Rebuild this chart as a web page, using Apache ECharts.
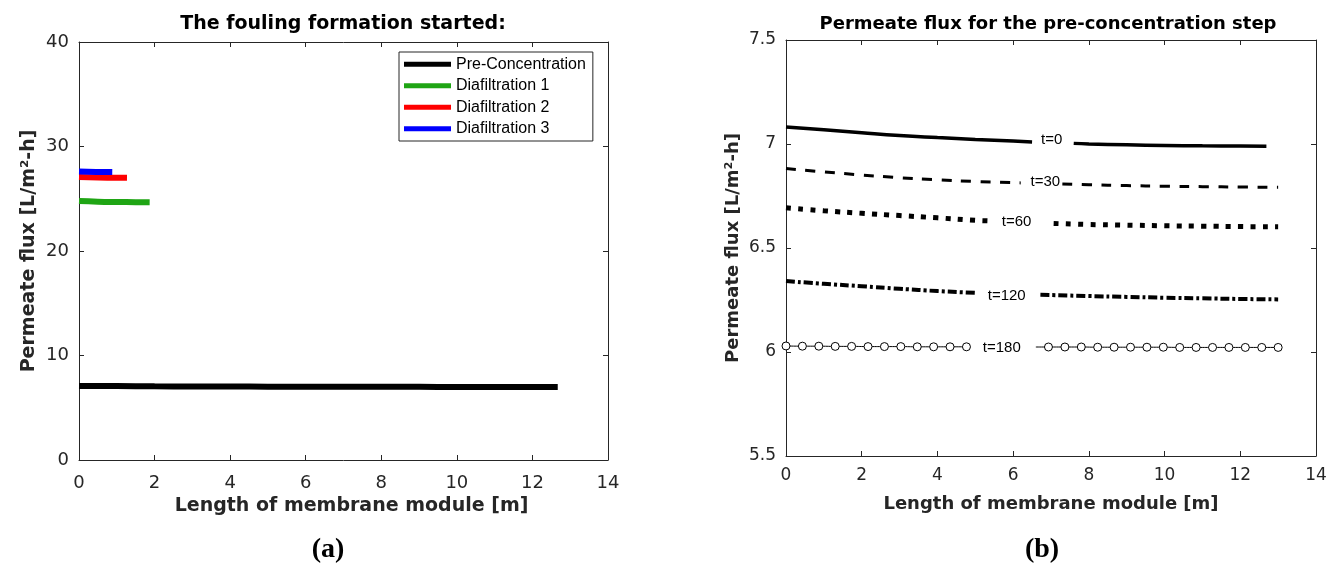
<!DOCTYPE html>
<html>
<head>
<meta charset="utf-8">
<title>Permeate flux</title>
<script src="https://cdn.jsdelivr.net/npm/echarts@6.0.0/dist/echarts.min.js"></script>
<style>
    html, body { margin: 0; padding: 0; background: #fff; }
    #main { width: 1328px; height: 564px; }
</style>
</head>
<body>
<div id="main"></div>
<script>
// (a) flux along the module when fouling starts, one profile per stage
var preConcX = [0, 1, 2, 3, 4, 5, 6, 7, 8, 9, 10, 11, 12, 12.67];
var preConcY = [7.08, 7.07, 7.05, 7.04, 7.03, 7.02, 7.01, 7.0, 7.0, 7.0, 6.99, 6.99, 6.99, 6.99];
var dia1X = [0, 0.5, 1, 1.5, 1.87];
var dia1Y = [24.78, 24.72, 24.69, 24.67, 24.66];
var dia2X = [0, 0.5, 1, 1.27];
var dia2Y = [27.07, 27.03, 27.01, 27.0];
var dia3X = [0, 0.45, 0.88];
var dia3Y = [27.6, 27.57, 27.55];
var stageNames = ['Pre-Concentration', 'Diafiltration 1', 'Diafiltration 2', 'Diafiltration 3'];

// (b) pre-concentration profiles at t = 0..180, null = gap left for the label
var t0X = [0, 1, 2, 3, 4, 5, 6, 6.5, 7.05, 7.6, 8, 9, 10, 11, 12, 12.69];
var t0Y = [7.082, 7.068, 7.054, 7.041, 7.031, 7.022, 7.014, 7.010, null, 7.003, 7.0, 6.996, 6.993, 6.991, 6.990, 6.989];
var t30X = [0, 1, 2, 3, 4, 5, 6.2, 6.75, 7.3, 8, 9, 10, 11, 12, 13];
var t30Y = [6.882, 6.866, 6.851, 6.838, 6.828, 6.820, 6.813, null, 6.808, 6.804, 6.800, 6.797, 6.795, 6.793, 6.792];
var t60X = [0, 1, 2, 3, 4, 5, 5.48, 6.3, 7.07, 8, 9, 10, 11, 12, 13];
var t60Y = [6.693, 6.679, 6.667, 6.656, 6.645, 6.633, 6.630, null, 6.618, 6.613, 6.610, 6.607, 6.605, 6.603, 6.602];
var t120X = [0, 1, 2, 3, 4, 5.03, 5.9, 6.72, 8, 9, 10, 11, 12, 13];
var t120Y = [6.341, 6.328, 6.316, 6.304, 6.293, 6.284, null, 6.275, 6.269, 6.265, 6.261, 6.258, 6.255, 6.253];
var t180X = [0, 0.433, 0.867, 1.3, 1.733, 2.167, 2.6, 3.033, 3.467, 3.9, 4.333, 4.767, 5.6, 6.6,
    6.933, 7.367, 7.8, 8.233, 8.667, 9.1, 9.533, 9.967, 10.4, 10.833, 11.267, 11.7, 12.133, 12.567, 13];
var t180Y = [6.029, 6.028, 6.028, 6.027, 6.027, 6.026, 6.026, 6.026, 6.025, 6.025, 6.025, 6.025, null, 6.024,
    6.024, 6.024, 6.024, 6.023, 6.023, 6.023, 6.023, 6.023, 6.022, 6.022, 6.022, 6.022, 6.022, 6.022, 6.022];
var timeNames = ['t=0', 't=30', 't=60', 't=120', 't=180'];

var xTicks = { min: 0, max: 14, interval: 2 };

var SANS = '"DejaVu Sans", sans-serif';
var ARIAL = '"Liberation Sans", Arial, sans-serif';
var INK = '#262626';

function pairs(xs, ys) {
    return xs.map(function (x, i) {
        return ys[i] === null ? [x, '-'] : [x, ys[i]];
    });
}

// MATLAB style box: ticks inside on all four sides
function xAxes(grid, labelSize, labelMargin, nameGap, nameShift) {
    var common = {
        type: 'value', gridIndex: grid, min: xTicks.min, max: xTicks.max, interval: xTicks.interval,
        splitLine: { show: false },
        axisLine: { show: true, onZero: false, lineStyle: { color: INK, width: 1 } },
        axisTick: { show: true, inside: true, length: 5, lineStyle: { color: INK } }
    };
    return [
        Object.assign({}, common, {
            position: 'bottom',
            name: 'Length of membrane module [m]',
            nameLocation: 'middle',
            nameGap: nameGap,
            nameTextStyle: {
                fontFamily: SANS, fontWeight: 'bold', fontSize: labelSize + 1, color: INK,
                padding: [0, 0, 0, nameShift]
            },
            axisLabel: { fontFamily: SANS, fontSize: labelSize, color: INK, margin: labelMargin }
        }),
        Object.assign({}, common, { position: 'top', axisLabel: { show: false } })
    ];
}

function yAxes(grid, range, labelSize, nameGap) {
    var common = {
        type: 'value', gridIndex: grid, min: range[0], max: range[1], interval: range[2],
        splitLine: { show: false },
        axisLine: { show: true, onZero: false, lineStyle: { color: INK, width: 1 } },
        axisTick: { show: true, inside: true, length: 5, lineStyle: { color: INK } }
    };
    return [
        Object.assign({}, common, {
            position: 'left',
            name: 'Permeate flux [L/m\u00b2-h]',
            nameLocation: 'middle',
            nameGap: nameGap,
            nameTextStyle: { fontFamily: SANS, fontWeight: 'bold', fontSize: labelSize + 1, color: INK },
            axisLabel: { fontFamily: SANS, fontSize: labelSize, color: INK, margin: 10 }
        }),
        Object.assign({}, common, { position: 'right', axisLabel: { show: false } })
    ];
}

function stage(name, xs, ys, color) {
    return {
        name: name, type: 'line', xAxisIndex: 0, yAxisIndex: 0,
        data: pairs(xs, ys), showSymbol: false, smooth: true,
        color: color,
        lineStyle: { color: color, width: 6 }
    };
}

function profile(name, xs, ys, lineStyle, labelAt, extra) {
    var s = {
        name: name, type: 'line', xAxisIndex: 2, yAxisIndex: 2,
        data: pairs(xs, ys), showSymbol: false, smooth: true, connectNulls: false,
        color: '#000',
        lineStyle: Object.assign({ color: '#000' }, lineStyle),
        markPoint: {
            symbol: 'circle', symbolSize: 0, silent: true,
            label: {
                show: true, position: 'inside', formatter: name,
                fontFamily: ARIAL, fontSize: 15, color: '#000'
            },
            data: [{ coord: labelAt }]
        }
    };
    return Object.assign(s, extra || {});
}

var t180Data = pairs(t180X, t180Y).map(function (p, i) {
    // the stub after the label gap carries no marker
    if (i > 0 && t180Y[i - 1] === null) {
        return { value: p, symbol: 'none' };
    }
    return p;
});

var chart = echarts.init(document.getElementById('main'));
chart.setOption({
    animation: false,
    backgroundColor: '#fff',
    grid: [
        { left: 79, top: 42, width: 529, height: 418, outerBoundsMode: 'none' },
        { left: 786, top: 40, width: 530, height: 416, outerBoundsMode: 'none' }
    ],
    xAxis: xAxes(0, 18, 14, 30, 16).concat(xAxes(1, 17, 11, 39, 0)),
    yAxis: yAxes(0, [0, 40, 10], 18, 40.5).concat(yAxes(1, [5.5, 7.5, 0.5], 17, 43.5)),
    legend: {
        data: stageNames,
        orient: 'vertical',
        left: 399, top: 52,
        icon: 'rect',
        itemWidth: 47, itemHeight: 5, itemGap: 5,
        padding: [4, 7, 4, 5],
        backgroundColor: '#fff',
        borderColor: INK, borderWidth: 1, borderRadius: 0,
        itemStyle: { borderWidth: 0 },
        selectedMode: false,
        textStyle: { fontFamily: ARIAL, fontSize: 16, lineHeight: 16.5, color: '#000' }
    },
    graphic: [
        { type: 'text', x: 343, y: 24, style: { text: 'The fouling formation started:', font: 'bold 19px ' + SANS, fill: '#000', align: 'center', verticalAlign: 'middle' } },
        { type: 'text', x: 1048, y: 24, style: { text: 'Permeate flux for the pre-concentration step', font: 'bold 18px ' + SANS, fill: '#000', align: 'center', verticalAlign: 'middle' } },
        { type: 'text', x: 328, y: 550, style: { text: '(a)', font: 'bold 28px "Liberation Serif", serif', fill: '#000', align: 'center', verticalAlign: 'middle' } },
        { type: 'text', x: 1042, y: 550, style: { text: '(b)', font: 'bold 28px "Liberation Serif", serif', fill: '#000', align: 'center', verticalAlign: 'middle' } }
    ],
    series: [
        stage(stageNames[0], preConcX, preConcY, '#000000'),
        stage(stageNames[1], dia1X, dia1Y, '#1fa514'),
        stage(stageNames[2], dia2X, dia2Y, '#ff0000'),
        stage(stageNames[3], dia3X, dia3Y, '#0000ff'),

        profile(timeNames[0], t0X, t0Y, { width: 3.5 }, [7.02, 7.018]),
        profile(timeNames[1], t30X, t30Y, { width: 3, type: [10, 9.5] }, [6.85, 6.818]),
        profile(timeNames[2], t60X, t60Y, { width: 5, type: [5, 7.3] }, [6.09, 6.626]),
        profile(timeNames[3], t120X, t120Y, { width: 4, type: [9, 3, 3, 3] }, [5.83, 6.269]),
        profile(timeNames[4], t180X, t180Y, { width: 1 }, [5.7, 6.02], {
            data: t180Data,
            showSymbol: true,
            symbol: 'circle',
            symbolSize: 8,
            itemStyle: { color: '#fff', borderColor: '#000', borderWidth: 1 }
        })
    ]
});
</script>
</body>
</html>
